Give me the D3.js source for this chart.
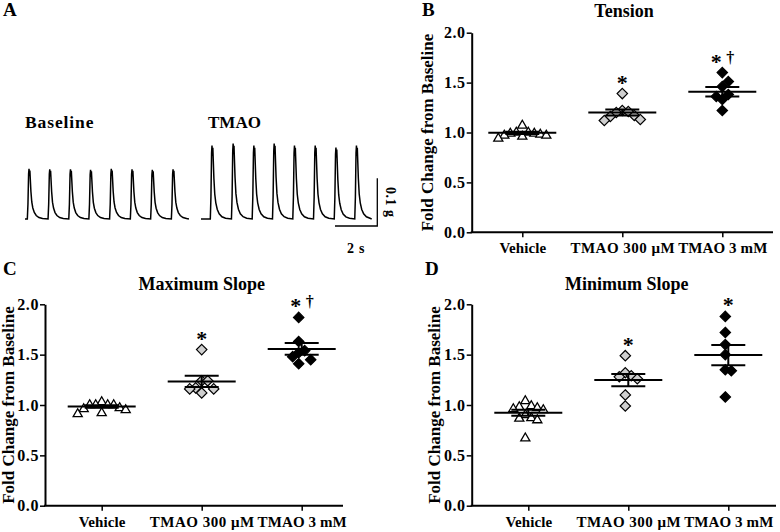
<!DOCTYPE html>
<html><head><meta charset="utf-8">
<script src="https://cdn.jsdelivr.net/npm/d3@7"></script>
<style>
body{margin:0;background:#fff}
svg{display:block}
text{font-family:"Liberation Serif","Times New Roman",serif;font-weight:bold;fill:#000}
</style>
</head><body><svg id="c" width="780" height="532"></svg>
<script>
// ---------------- DATA ----------------
const categories = ["Vehicle", "TMAO 300 μM", "TMAO 3 mM"];
const yTicks = [0.0, 0.5, 1.0, 1.5, 2.0];

// Panel B – Tension (fold change)
const tensionVehicle = [1.08, 1.01, 1.01, 1.00, 1.00, 0.99, 0.98, 0.98, 0.97, 0.95];
const tension300uM   = [1.39, 1.22, 1.21, 1.20, 1.17, 1.16, 1.13, 1.12];
const tension3mM     = [1.60, 1.51, 1.46, 1.38, 1.36, 1.33, 1.22];
const tensionMarks   = ["", "*", "*†"];

// Panel C – Maximum slope
const maxSlopeVehicle = [1.04, 1.01, 1.01, 1.01, 1.01, 0.98, 0.97, 0.96, 0.93, 0.92];
const maxSlope300uM   = [1.55, 1.24, 1.24, 1.17, 1.16, 1.16, 1.12];
const maxSlope3mM     = [1.87, 1.63, 1.54, 1.52, 1.48, 1.45, 1.41];
const maxSlopeMarks   = ["", "*", "*†"];

// Panel D – Minimum slope
const minSlopeVehicle = [1.05, 0.99, 1.00, 0.98, 0.97, 0.96, 0.91, 0.88, 0.875, 0.86, 0.68];
const minSlope300uM   = [1.49, 1.32, 1.29, 1.28, 1.26, 1.10, 0.99];
const minSlope3mM     = [1.88, 1.72, 1.60, 1.50, 1.35, 1.34, 1.08];
const minSlopeMarks   = ["", "*", "*"];

// Panel A – representative traces (time in s, tension in g)
const beatShapeT = [0, 0.03, 0.06, 0.08, 0.10, 0.12, 0.14, 0.17, 0.21, 0.26, 0.33, 0.42, 0.55, 0.72];
const beatShapeV = [0, 0.30, 0.90, 1.00, 0.86, 0.97, 0.80, 0.55, 0.34, 0.22, 0.13, 0.07, 0.03, 0.01];
const baselineOnsets = [0.11, 1.09, 2.07, 3.02, 4.00, 4.98, 5.94, 6.92];
const baselineAmps   = [0.105, 0.104, 0.104, 0.103, 0.105, 0.104, 0.103, 0.104];
const baselineDuration = 7.75;
const tmaoOnsets = [0.44, 1.44, 2.42, 3.38, 4.34, 5.32, 6.30, 7.27];
const tmaoAmps   = [0.154, 0.158, 0.154, 0.158, 0.154, 0.154, 0.150, 0.154];
const tmaoDuration = 8.07;
const scaleBarTime = 2;     // s
const scaleBarForce = 0.1;  // g

// ---------------- DRAW ----------------
const svg = d3.select("#c");

function buildTrace(onsets, amps, duration) {
  const pts = [[0, 0]];
  onsets.forEach((o, i) => {
    beatShapeT.forEach((t, j) => pts.push([o + t, amps[i] * beatShapeV[j]]));
  });
  pts.push([duration, 0]);
  return pts;
}

// Panel A
const pxPerSec = 21.15;
const yTrace = d3.scaleLinear().domain([0, 0.1]).range([219, 171.3]);
const xBase = d3.scaleLinear().domain([0, baselineDuration]).range([25, 25 + baselineDuration * pxPerSec]);
const xTmao = d3.scaleLinear().domain([0, tmaoDuration]).range([201, 201 + tmaoDuration * pxPerSec]);
const traceLine = sx => d3.line().x(d => sx(d[0])).y(d => yTrace(d[1])).curve(d3.curveLinear);

svg.append("path").datum(buildTrace(baselineOnsets, baselineAmps, baselineDuration))
  .attr("d", traceLine(xBase)).attr("fill", "none").attr("stroke", "#000").attr("stroke-width", 1.5);
svg.append("path").datum(buildTrace(tmaoOnsets, tmaoAmps, tmaoDuration))
  .attr("d", traceLine(xTmao)).attr("fill", "none").attr("stroke", "#000").attr("stroke-width", 1.5);

// scale bar
const barX = 377.3, barY = 226;
const barW = xTmao(scaleBarTime) - xTmao(0);
const barH = yTrace(0) - yTrace(scaleBarForce);
svg.append("path").attr("d", `M${barX - barW},${barY}H${barX}V${barY - barH}`)
  .attr("fill", "none").attr("stroke", "#000").attr("stroke-width", 1.3);
svg.append("text").attr("x", barX - barW / 2).attr("y", 253).attr("text-anchor", "middle")
  .attr("font-size", 14).attr("letter-spacing", 0.8).text(scaleBarTime + " s");
svg.append("text").attr("transform", `translate(386,${barY - barH / 2}) rotate(90)`)
  .attr("text-anchor", "middle").attr("font-size", 14).attr("letter-spacing", 0.5).text(scaleBarForce + " g");

svg.append("text").attr("x", 25).attr("y", 128).attr("font-size", 17.5).attr("letter-spacing", 0.9).text("Baseline");
svg.append("text").attr("x", 208).attr("y", 128).attr("font-size", 17).text("TMAO");
svg.append("text").attr("x", 3).attr("y", 16).attr("font-size", 19).text("A");

// Scatter panels
function stats(v) {
  const m = d3.mean(v);
  const sem = d3.deviation(v) / Math.sqrt(v.length);
  return {m, sem};
}

function beeswarm(values, y, step, h) {
  const idx = values.map((v, i) => i).sort((a, b) => values[b] - values[a]);
  const placed = [];
  const off = new Array(values.length).fill(0);
  idx.forEach(i => {
    const py = y(values[i]);
    for (let k = 0; k < 40; k++) {
      const cand = k === 0 ? 0 : (k % 2 ? 1 : -1) * Math.ceil(k / 2) * step;
      const ok = placed.every(p => Math.abs(p.y - py) >= h || Math.abs(p.x - cand) >= step * 0.99);
      if (ok) { off[i] = cand; placed.push({x: cand, y: py}); break; }
    }
  });
  const mid = (d3.max(off) + d3.min(off)) / 2;
  return off.map(o => o - mid);
}

const triangle = d3.symbol().type(d3.symbolTriangle).size(36);
const diamond = s => `M0,${-s}L${s},0L0,${s}L${-s},0Z`;

function panel(cfg) {
  const g = svg.append("g");
  const y = d3.scaleLinear().domain([0, 2]).range([cfg.y0, cfg.y2]);
  const x = d3.scalePoint().domain(categories).range([cfg.xFirst, cfg.xFirst + 200]);

  // axes
  const ya = g.append("g").attr("transform", `translate(${cfg.ax},0)`)
    .call(d3.axisLeft(y).tickValues(yTicks).tickFormat(d3.format(".1f")).tickSize(5).tickSizeOuter(0).tickPadding(1));
  ya.select(".domain").attr("stroke-width", 2);
  ya.selectAll(".tick line").attr("stroke-width", 1.5);
  ya.selectAll(".tick text").attr("font-size", 16).attr("font-family", "Liberation Serif")
    .attr("font-weight", "bold").attr("letter-spacing", 0.6);

  const xa = g.append("g").attr("transform", `translate(0,${cfg.y0})`)
    .call(d3.axisBottom(x).tickSize(5));
  xa.select(".domain").remove();
  xa.selectAll(".tick line").attr("stroke-width", 1.5);
  xa.selectAll(".tick text").attr("font-size", 15).attr("font-family", "Liberation Serif")
    .attr("font-weight", "bold").attr("y", 21).attr("dy", 0)
    .attr("letter-spacing", d => d.includes("μ") ? 0.5 : 0.1);
  g.append("line").attr("x1", cfg.ax - 1).attr("x2", cfg.xEnd).attr("y1", cfg.y0).attr("y2", cfg.y0)
    .attr("stroke", "#000").attr("stroke-width", 2);

  // titles
  g.append("text").attr("x", cfg.titleX).attr("y", cfg.titleY).attr("text-anchor", "middle")
    .attr("font-size", 18).text(cfg.title);
  g.append("text").attr("transform", `translate(${cfg.ytX},${(cfg.y0 + cfg.y2) / 2}) rotate(-90)`)
    .attr("text-anchor", "middle").attr("font-size", 17).text("Fold Change from Baseline");
  g.append("text").attr("x", cfg.letterX).attr("y", cfg.letterY).attr("font-size", 19).text(cfg.letter);

  // points
  cfg.series.forEach((vals, ci) => {
    const cx = x(categories[ci]);
    const offs = beeswarm(vals, y, 6, 10);
    vals.forEach((v, i) => {
      const px = cx + offs[i], py = y(v);
      if (ci === 0) {
        g.append("path").attr("d", triangle()).attr("transform", `translate(${px},${py + 1})`)
          .attr("fill", "#fff").attr("stroke", "#000").attr("stroke-width", 1.3);
      } else {
        g.append("path").attr("d", diamond(5.2)).attr("transform", `translate(${px},${py})`)
          .attr("fill", ci === 1 ? "#cfcfcf" : "#000").attr("stroke", "#000").attr("stroke-width", 1.2);
      }
    });
    const s = stats(vals);
    g.append("line").attr("x1", cx - 34).attr("x2", cx + 34).attr("y1", y(s.m)).attr("y2", y(s.m))
      .attr("stroke", "#000").attr("stroke-width", 2);
    g.append("line").attr("x1", cx).attr("x2", cx).attr("y1", y(s.m - s.sem)).attr("y2", y(s.m + s.sem))
      .attr("stroke", "#000").attr("stroke-width", 2);
    [s.m - s.sem, s.m + s.sem].forEach(e => g.append("line").attr("x1", cx - 17).attr("x2", cx + 17)
      .attr("y1", y(e)).attr("y2", y(e)).attr("stroke", "#000").attr("stroke-width", 2));

    const mark = cfg.marks[ci];
    if (mark) {
      const top = y(d3.max(vals)) - 15;
      if (mark.includes("*")) {
        g.append("text").attr("x", mark.length > 1 ? cx - 6 : cx).attr("y", top + 11)
          .attr("text-anchor", "middle").attr("font-size", 22).text("*");
      }
      if (mark.includes("†")) {
        g.append("text").attr("x", cx + 8).attr("y", top + 5)
          .attr("text-anchor", "middle").attr("font-size", 16).text("†");
      }
    }
  });
}

panel({letter: "B", letterX: 422, letterY: 16, title: "Tension", titleX: 624, titleY: 17,
  ax: 471.7, y0: 232.3, y2: 32.7, xFirst: 522.3, xEnd: 773, ytX: 433,
  series: [tensionVehicle, tension300uM, tension3mM], marks: tensionMarks});
panel({letter: "C", letterX: 3, letterY: 275, title: "Maximum Slope", titleX: 201.7, titleY: 290,
  ax: 45, y0: 505.7, y2: 304.3, xFirst: 101.7, xEnd: 343, ytX: 14,
  series: [maxSlopeVehicle, maxSlope300uM, maxSlope3mM], marks: maxSlopeMarks});
panel({letter: "D", letterX: 425, letterY: 275, title: "Minimum Slope", titleX: 626.7, titleY: 290,
  ax: 471.7, y0: 505.7, y2: 304.3, xFirst: 528.3, xEnd: 776, ytX: 440,
  series: [minSlopeVehicle, minSlope300uM, minSlope3mM], marks: minSlopeMarks});
</script>
</body></html>
